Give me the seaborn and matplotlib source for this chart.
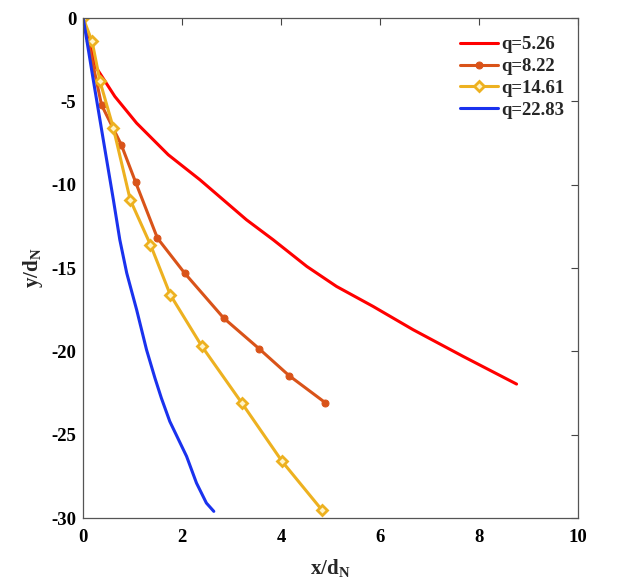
import matplotlib
matplotlib.use("Agg")
import matplotlib.pyplot as plt
import seaborn as sns
import pandas as pd

# q = 5.26
x1 = [0, 0.10, 0.27, 0.64, 1.08, 1.72, 2.36, 2.83, 3.30, 3.84, 4.52, 5.12, 5.86, 6.67, 7.68, 8.76]
y1 = [0, -1.2, -3.0, -4.7, -6.3, -8.2, -9.7, -10.9, -12.1, -13.3, -14.9, -16.1, -17.3, -18.7, -20.3, -21.96]
# q = 8.22
x2 = [0, 0.37, 0.77, 1.06, 1.50, 2.05, 2.84, 3.56, 4.16, 4.89]
y2 = [0, -5.2, -7.6, -9.85, -13.2, -15.3, -18.0, -19.85, -21.45, -23.07]
# q = 14.61
x3 = [0, 0.18, 0.34, 0.61, 0.95, 1.36, 1.76, 2.40, 3.20, 4.02, 4.82]
y3 = [0, -1.4, -3.8, -6.6, -10.9, -13.6, -16.6, -19.7, -23.07, -26.6, -29.5]
# q = 22.83
x4 = [0, 0.22, 0.44, 0.61, 0.74, 0.88, 1.08, 1.28, 1.45, 1.58, 1.75, 2.09, 2.29, 2.49, 2.64]
y4 = [0, -4.0, -7.9, -10.9, -13.3, -15.3, -17.5, -19.9, -21.6, -22.8, -24.2, -26.3, -27.9, -29.1, -29.6]

labels = ["q=5.26", "q=8.22", "q=14.61", "q=22.83"]
xticks = [0, 2, 4, 6, 8, 10]
yticks = [0, -5, -10, -15, -20, -25, -30]

sns.set_theme(style="white")
plt.rcParams['font.family'] = ['Liberation Serif', 'DejaVu Serif']
plt.rcParams['font.weight'] = 'bold'
plt.rcParams['axes.unicode_minus'] = False
plt.rcParams['mathtext.fontset'] = 'custom'
plt.rcParams['mathtext.rm'] = 'Liberation Serif'
plt.rcParams['mathtext.bf'] = 'Liberation Serif:bold'
plt.rcParams['mathtext.it'] = 'Liberation Serif:italic'

fig = plt.figure(figsize=(6.4, 5.86), dpi=100)
ax = fig.add_axes([0.130, 0.116, 0.773, 0.853])

styles = [
    dict(color="#FF0000", marker=None),
    dict(color="#D95319", marker="o", markersize=5, markerfacecolor="#D95319", markeredgecolor="#D95319"),
    dict(color="#EDB120", marker="D", markersize=5.5, markerfacecolor="#FFF4C8", markeredgecolor="#EDB120", markeredgewidth=2),
    dict(color="#1A32EE", marker=None),
]
for xs, ys, lab, st in zip([x1, x2, x3, x4], [y1, y2, y3, y4], labels, styles):
    df = pd.DataFrame({"x": xs, "y": ys})
    sns.lineplot(data=df, x="x", y="y", ax=ax, sort=False, estimator=None,
                 linewidth=2.2, label=lab, **st)

ax.set_xlim(0, 10)
ax.set_ylim(-30, 0)
ax.set_xticks(xticks)
ax.set_yticks(yticks)
ax.tick_params(direction="in", top=True, right=True, length=5, width=0.8,
               labelsize=13.5, colors="#444444")
ax.tick_params(axis="x", pad=8)
ax.tick_params(axis="y", pad=5)
for lab in ax.get_xticklabels() + ax.get_yticklabels():
    lab.set_fontweight("bold")
    lab.set_color("black")
for sp in ax.spines.values():
    sp.set_color("#555555")
    sp.set_linewidth(0.9)

ax.set_xlabel(r"x/d$_\mathbf{N}$", fontsize=15, fontweight="bold")
ax.set_ylabel(r"y/d$_\mathbf{N}$", fontsize=15, fontweight="bold")
ax.xaxis.set_label_coords(0.5, -0.078)
ax.yaxis.set_label_coords(-0.078, 0.5)

leg = ax.legend(loc="upper right", bbox_to_anchor=(1.0, 0.99), frameon=False,
                handlelength=2.0, handletextpad=0.2, labelspacing=0.25,
                borderaxespad=0.3, prop={'weight': 'bold', 'size': 13.5})

fig.savefig("out.png", dpi=100, facecolor="white")
